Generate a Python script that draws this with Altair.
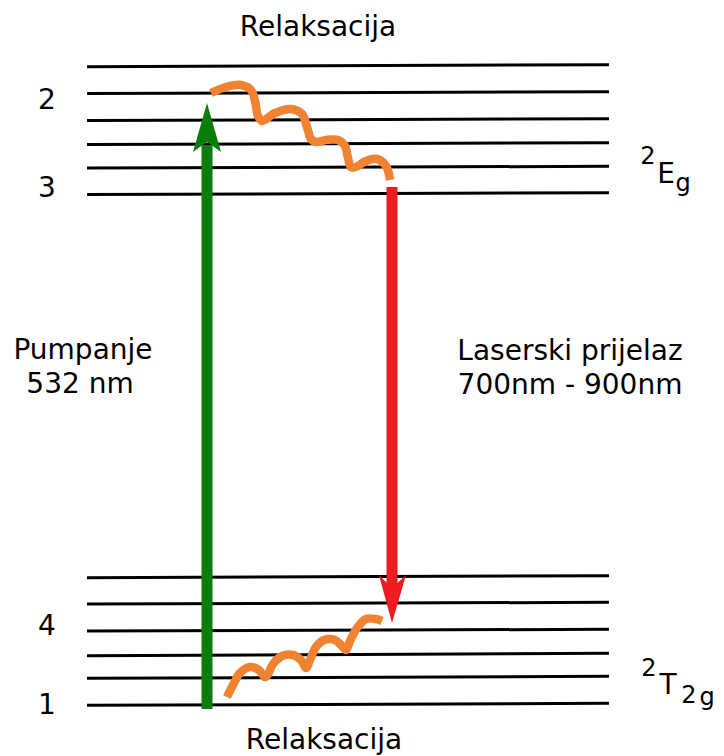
import altair as alt
import pandas as pd

# Energy levels (y at left end, y at right end), in diagram units
level_y_left = [66.7, 93.5, 120.5, 144.5, 168, 194.5, 577.7, 604, 631, 655.7, 678.3, 705.3]
level_y_right = [64.7, 91.7, 118.7, 142.7, 166.3, 192.7, 575.7, 602.3, 629.3, 653.3, 676.3, 703.3]
level_x_start = 87
level_x_end = 609

# Pump arrow (green) and laser arrow (red)
pump_x = 207
pump_from, pump_to = 709, 145
pump_head_x = [193, 207, 221]
pump_head_y = [152, 103, 152]
pump_head_y2 = [152, 142, 152]

laser_x = 392
laser_from, laser_to = 187, 590
laser_head_x = [379, 392, 406]
laser_head_y = [575, 588, 575]
laser_head_y2 = [575, 623, 575]

# Relaxation (wavy) paths
relax_top_x = [211, 226, 241, 251, 255, 258, 262, 275, 291, 302, 307, 311, 316, 326, 338, 345, 348, 351, 356, 366, 377, 386, 390]
relax_top_y = [93, 87, 85, 90, 101, 116, 121, 113, 109, 114, 127, 139, 142, 140, 140, 146, 158, 167, 167, 161, 159, 166, 180]
relax_bot_x = [227, 233, 240, 250, 259, 265, 268, 273, 282, 293, 301, 306, 310, 316, 324, 335, 342, 346, 350, 357, 366, 376, 382]
relax_bot_y = [697, 685, 673, 667, 670, 677, 674, 664, 656, 655, 660, 668, 660, 647, 640, 640, 646, 650, 641, 628, 619, 619, 621]

# Labels
label_text = ["Relaksacija", "Relaksacija", "2", "3", "4", "1", "Pumpanje", "532 nm",
              "Laserski prijelaz", "700nm - 900nm",
              "2", "E", "g", "2", "T", "2", "g"]
label_x = [318, 324, 47, 47, 47, 47, 83, 80, 570, 570,
           648, 666, 683, 649, 668, 689, 707]
label_y = [28, 741, 101, 189, 627, 706, 351, 385, 352, 386,
           157, 175, 184, 669, 686, 696, 698]
label_size = [28, 28, 28, 28, 28, 28, 28, 28, 28, 28,
              24, 28, 24, 24, 28, 24, 24]

xs = alt.Scale(domain=[8, 716])
ys = alt.Scale(domain=[8, 756], reverse=True)
X = lambda f: alt.X(f, scale=xs, axis=None)
Y = lambda f: alt.Y(f, scale=ys, axis=None)

levels = pd.DataFrame({
    "x0": [level_x_start] * len(level_y_left),
    "x1": [level_x_end] * len(level_y_left),
    "y0": level_y_left,
    "y1": level_y_right,
})
level_layer = alt.Chart(levels).mark_rule(color="black", strokeWidth=3).encode(
    x=X("x0:Q"), x2="x1:Q", y=Y("y0:Q"), y2="y1:Q")

shafts = pd.DataFrame({
    "x": [pump_x, laser_x],
    "y0": [pump_from, laser_from],
    "y1": [pump_to, laser_to],
    "c": ["pump", "laser"],
})
cscale = alt.Scale(domain=["pump", "laser"], range=["#0a7d0a", "#ee1b1f"])
shaft_layer = alt.Chart(shafts).mark_rule(strokeWidth=11, strokeCap="butt").encode(
    x=X("x:Q"), y=Y("y0:Q"), y2="y1:Q",
    color=alt.Color("c:N", scale=cscale, legend=None))

pump_head = pd.DataFrame({"x": pump_head_x, "y": pump_head_y, "y2": pump_head_y2})
laser_head = pd.DataFrame({"x": laser_head_x, "y": laser_head_y, "y2": laser_head_y2})
pump_head_layer = alt.Chart(pump_head).mark_area(color="#0a7d0a", orient="vertical").encode(
    x=X("x:Q"), y=Y("y:Q"), y2="y2:Q")
laser_head_layer = alt.Chart(laser_head).mark_area(color="#ee1b1f", orient="vertical").encode(
    x=X("x:Q"), y=Y("y:Q"), y2="y2:Q")

relax = pd.DataFrame({
    "x": relax_top_x + relax_bot_x,
    "y": relax_top_y + relax_bot_y,
    "i": list(range(len(relax_top_x))) + list(range(len(relax_bot_x))),
    "g": ["top"] * len(relax_top_x) + ["bot"] * len(relax_bot_x),
})
relax_layer = alt.Chart(relax).mark_line(
    color="#f08232", strokeWidth=8.5, interpolate="catmull-rom", strokeCap="butt", strokeJoin="round"
).encode(x=X("x:Q"), y=Y("y:Q"), order="i:Q", detail="g:N")

labels = pd.DataFrame({"t": label_text, "x": label_x, "y": label_y, "s": label_size})
text_layer = alt.Chart(labels).mark_text(
    font="DejaVu Sans", color="black", baseline="middle", align="center"
).encode(x=X("x:Q"), y=Y("y:Q"), text="t:N", size=alt.Size("s:Q", scale=None, legend=None))

chart = alt.layer(
    level_layer, relax_layer, shaft_layer, pump_head_layer, laser_head_layer, text_layer
).properties(
    width=708, height=748, padding=0,
    autosize=alt.AutoSizeParams(type="none")
).configure_view(stroke=None)

chart.save("out.html", embed_options={"renderer": "svg", "actions": False})
